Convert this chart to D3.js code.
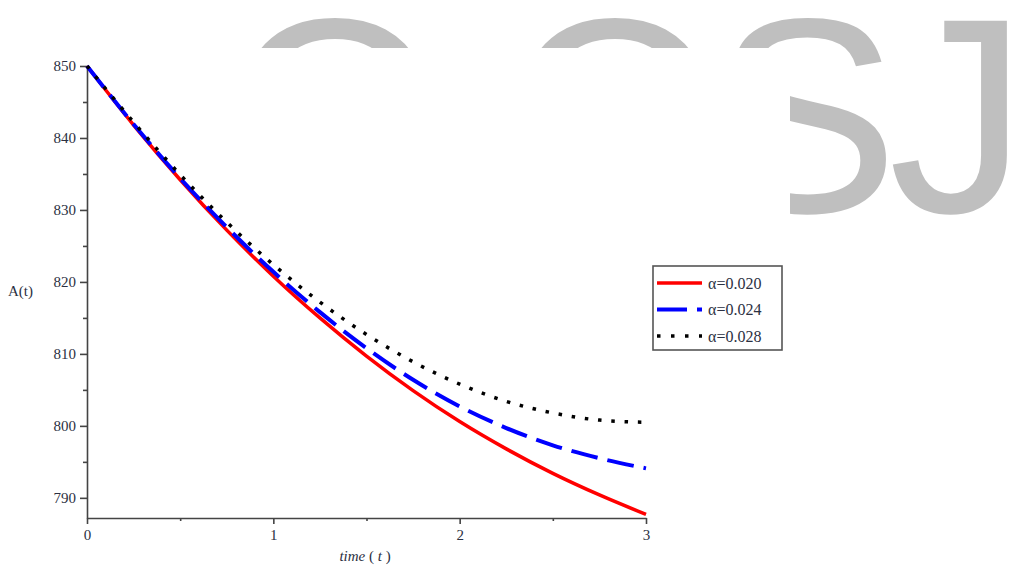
<!DOCTYPE html>
<html>
<head>
<meta charset="utf-8">
<script src="https://cdn.jsdelivr.net/npm/d3@7"></script>
<style>
  body { margin: 0; background: #fff; }
  svg { display: block; }
</style>
</head>
<body>
<script>
// values
const times = [0, 0.25, 0.5, 0.75, 1, 1.25, 1.5, 1.75, 2, 2.25, 2.5, 2.75, 3];
const alpha020 = [850, 841.8, 834.2, 827.2, 820.8, 815.0, 809.7, 804.9, 800.6, 796.8, 793.4, 790.4, 787.7];
const alpha024 = [850, 841.9, 834.4, 827.6, 821.4, 815.8, 810.8, 806.4, 802.7, 799.7, 797.3, 795.5, 794.1];
const alpha028 = [850, 842.2, 834.9, 828.3, 822.4, 817.2, 812.7, 808.9, 805.8, 803.4, 801.8, 800.8, 800.5];
const seriesNames = ["α=0.020", "α=0.024", "α=0.028"];
const xTicks = [0, 1, 2, 3];
const yTicks = [790, 800, 810, 820, 830, 840, 850];

const width = 1013, height = 567;

const svg = d3.select("body").append("svg")
  .attr("width", width)
  .attr("height", height);

svg.append("rect").attr("width", width).attr("height", height).attr("fill", "#fff");

// watermark behind the chart image
const wm = svg.append("g")
  .attr("fill", "#bfbfbf")
  .attr("font-family", "'Liberation Sans', Arial, sans-serif")
  .attr("font-size", 278)
  .attr("text-anchor", "middle");
[["O", 335], ["O", 615], ["S", 806], ["J", 958]].forEach(d => {
  wm.append("text").attr("x", d[1]).attr("y", 212).text(d[0]);
});
// the chart picture itself is white and sits over the watermark
svg.append("rect").attr("x", 0).attr("y", 48).attr("width", 790).attr("height", height - 48).attr("fill", "#fff");

const x = d3.scaleLinear().domain([0, 3]).range([87, 646]);
const y = d3.scaleLinear().domain([787.2, 850]).range([518, 66]);

const textColor = "#2b3042";
const axisColor = "#444";

// y axis
svg.append("g")
  .attr("transform", "translate(" + x(0) + ",0)")
  .call(d3.axisLeft(y).tickValues(yTicks).tickSize(7).tickPadding(4).tickSizeOuter(0));
svg.append("g")
  .attr("transform", "translate(" + x(0) + ",0)")
  .call(d3.axisLeft(y).tickValues([795, 805, 815, 825, 835, 845]).tickSize(4).tickFormat("").tickSizeOuter(0))
  .select(".domain").remove();

// x axis
svg.append("g")
  .attr("transform", "translate(0," + y.range()[0] + ")")
  .call(d3.axisBottom(x).tickValues(xTicks).tickSize(6).tickPadding(5).tickFormat(d3.format("d")).tickSizeOuter(0));
svg.append("g")
  .attr("transform", "translate(0," + y.range()[0] + ")")
  .call(d3.axisBottom(x).tickValues([0.5, 1.5, 2.5]).tickSize(3).tickFormat("").tickSizeOuter(0))
  .select(".domain").remove();

svg.selectAll(".domain, .tick line").attr("stroke", axisColor).attr("stroke-width", 1.6);
svg.selectAll(".tick text")
  .attr("fill", textColor)
  .attr("font-family", "'Liberation Serif', 'Times New Roman', serif")
  .attr("font-size", 15);

// axis titles
svg.append("text")
  .attr("x", 8).attr("y", 296)
  .attr("fill", textColor)
  .attr("font-family", "'Liberation Serif', 'Times New Roman', serif")
  .attr("font-size", 15)
  .text("A(t)");

const xt = svg.append("text")
  .attr("x", 365).attr("y", 561)
  .attr("text-anchor", "middle")
  .attr("fill", textColor)
  .attr("font-family", "'Liberation Serif', 'Times New Roman', serif")
  .attr("font-size", 15);
xt.append("tspan").attr("font-style", "italic").text("time ");
xt.append("tspan").text("( ");
xt.append("tspan").attr("font-style", "italic").text("t");
xt.append("tspan").text(" )");

// curves
const series = [
  { name: seriesNames[0], values: alpha020, color: "#ff0000", width: 3.5, dash: null, key: null },
  { name: seriesNames[1], values: alpha024, color: "#0000ff", width: 4, dash: "27,10", key: "30,10" },
  { name: seriesNames[2], values: alpha028, color: "#000000", width: 3.5, dash: "3.5,9.8", key: "3.5,10.5" }
];

const line = d3.line()
  .x((d, i) => x(times[i]))
  .y(d => y(d))
  .curve(d3.curveMonotoneX);

svg.selectAll("path.curve")
  .data(series)
  .enter().append("path")
  .attr("class", "curve")
  .attr("fill", "none")
  .attr("stroke", d => d.color)
  .attr("stroke-width", d => d.width)
  .attr("stroke-dasharray", d => d.dash)
  .attr("d", d => line(d.values));

// legend
const legend = svg.append("g");
legend.append("rect")
  .attr("x", 653).attr("y", 266)
  .attr("width", 129).attr("height", 84)
  .attr("fill", "#fff")
  .attr("stroke", "#555")
  .attr("stroke-width", 1.6);

const rows = legend.selectAll("g.row")
  .data(series)
  .enter().append("g")
  .attr("class", "row")
  .attr("transform", (d, i) => "translate(0," + (283 + i * 26.5) + ")");

rows.append("line")
  .attr("x1", 657).attr("x2", 702)
  .attr("stroke", d => d.color)
  .attr("stroke-width", d => d.width)
  .attr("stroke-dasharray", d => d.key);

rows.append("text")
  .attr("x", 708).attr("y", 0)
  .attr("dy", "0.35em")
  .attr("fill", textColor)
  .attr("font-family", "'Liberation Serif', 'Times New Roman', serif")
  .attr("font-size", 16)
  .text(d => d.name);
</script>
</body>
</html>
